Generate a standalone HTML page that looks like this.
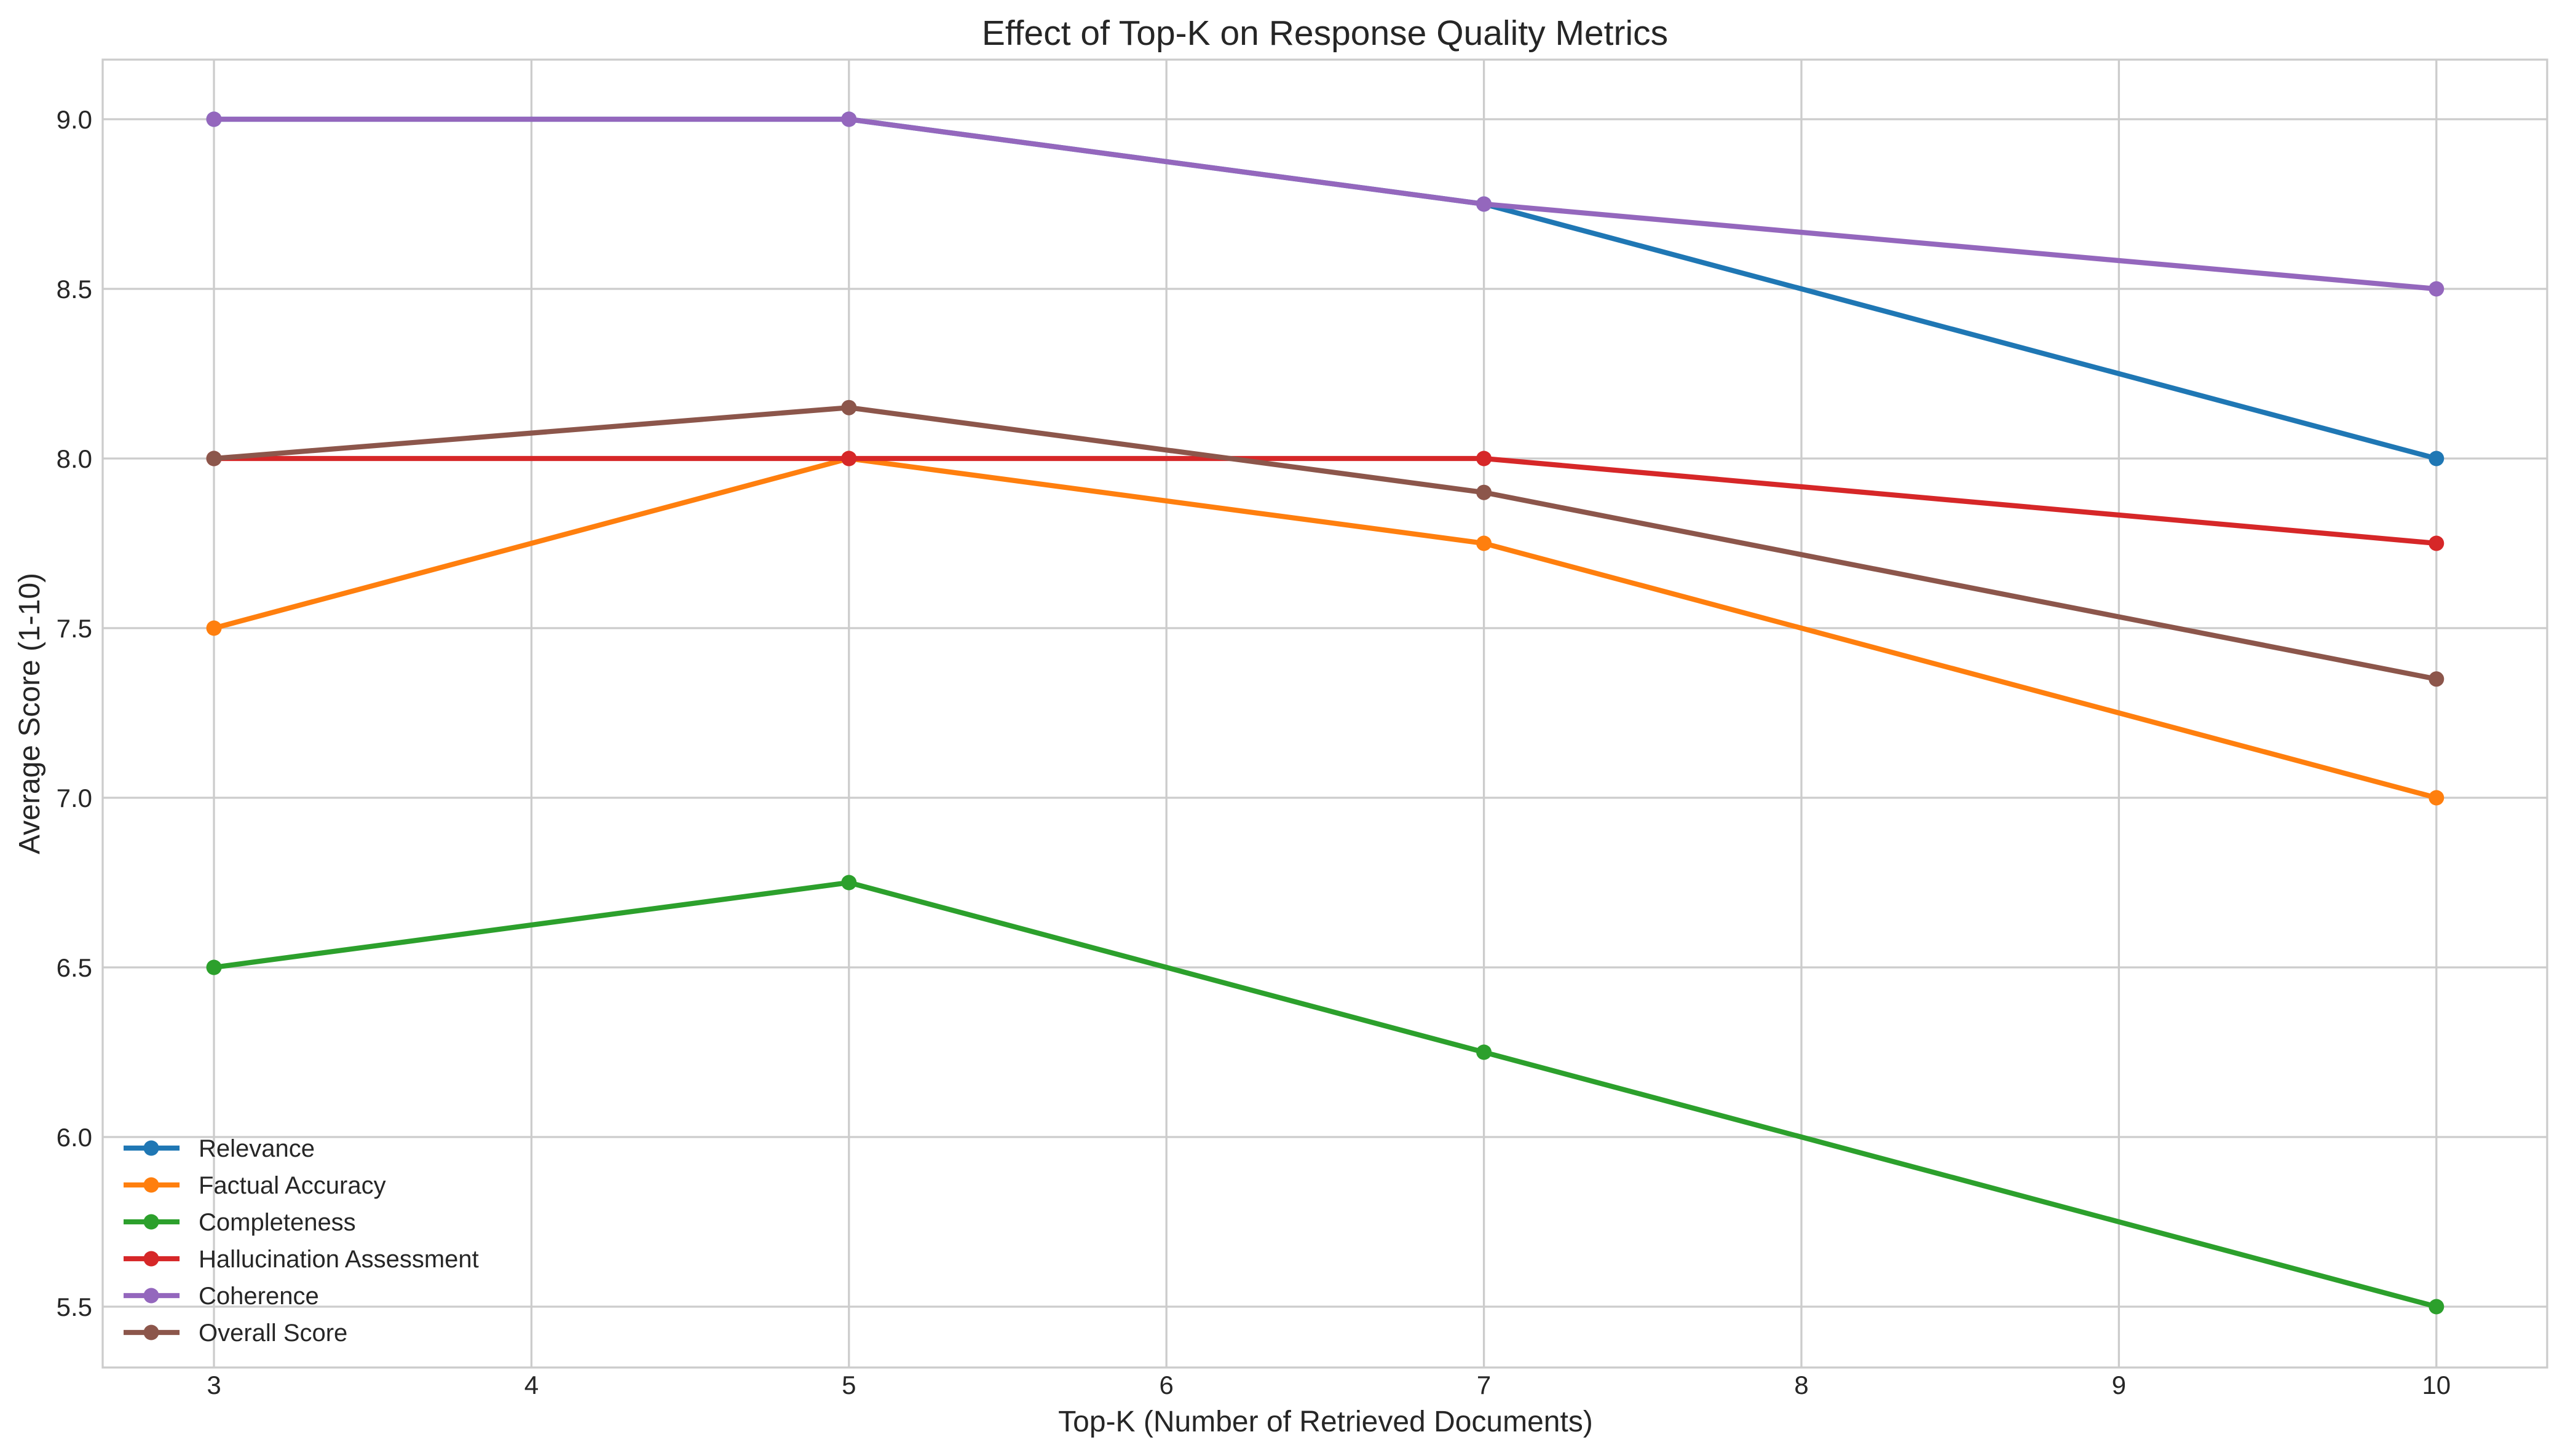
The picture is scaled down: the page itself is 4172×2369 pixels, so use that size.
<!DOCTYPE html>
<html><head><meta charset="utf-8"><style>
html,body{margin:0;padding:0;background:#fff;}
svg{display:block;}
text{font-family:"Liberation Sans",Arial,sans-serif;fill:#262626;}
</style></head><body>
<svg id="chart" width="4172" height="2369" viewBox="0 0 4172 2369" xmlns="http://www.w3.org/2000/svg">
<rect x="0" y="0" width="4172" height="2369" fill="#fff"/>
<g id="grid"></g>
<g id="ticks"></g>
<rect x="167" y="97" width="3976" height="2128" fill="none" stroke="#cccccc" stroke-width="3.3"/>
<g id="series"></g>
<g id="legend"></g>
<text x="2155" y="73" font-size="57" text-anchor="middle">Effect of Top-K on Response Quality Metrics</text>
<text x="2156" y="2329" font-size="48" text-anchor="middle">Top-K (Number of Retrieved Documents)</text>
<text x="0" y="0" font-size="48" text-anchor="middle" transform="translate(64,1161) rotate(-90)">Average Score (1-10)</text>
</svg>
<script>
const categories = [3, 5, 7, 10];
const seriesNames = ["Relevance","Factual Accuracy","Completeness","Hallucination Assessment","Coherence","Overall Score"];
const relevance = [9.0, 9.0, 8.75, 8.0];
const factualAccuracy = [7.5, 8.0, 7.75, 7.0];
const completeness = [6.5, 6.75, 6.25, 5.5];
const hallucination = [8.0, 8.0, 8.0, 7.75];
const coherence = [9.0, 9.0, 8.75, 8.5];
const overallScore = [8.0, 8.15, 7.9, 7.35];
const xTicks = [3,4,5,6,7,8,9,10];
const yTicks = [5.5,6.0,6.5,7.0,7.5,8.0,8.5,9.0];
const yTickLabels = ["5.5","6.0","6.5","7.0","7.5","8.0","8.5","9.0"];

const NS="http://www.w3.org/2000/svg";
const colors=["#1f77b4","#ff7f0e","#2ca02c","#d62728","#9467bd","#8c564b"];
const allSeries=[relevance,factualAccuracy,completeness,hallucination,coherence,overallScore];
function xs(v){return 348+(v-3)*516.4;}
function ys(v){return 194+(9.0-v)*552;}
function mk(tag,attrs,parent){const e=document.createElementNS(NS,tag);for(const k in attrs)e.setAttribute(k,attrs[k]);parent.appendChild(e);return e;}
const grid=document.getElementById('grid'),ticks=document.getElementById('ticks'),ser=document.getElementById('series'),leg=document.getElementById('legend');
xTicks.forEach(t=>{
  const l=mk('line',{x1:xs(t),x2:xs(t),y1:97,y2:2225,stroke:'#cccccc','stroke-width':3.3},grid);
  
  
  const tx=mk('text',{x:xs(t),y:2268,'font-size':42,'text-anchor':'middle'},ticks);
  tx.textContent=t;
  
  
});
yTicks.forEach((t,i)=>{
  const l=mk('line',{x1:167,x2:4143,y1:ys(t),y2:ys(t),stroke:'#cccccc','stroke-width':3.3},grid);
  
  
  const tx=mk('text',{x:150,y:ys(t)+15,'font-size':42,'text-anchor':'end'},ticks);
  tx.textContent=yTickLabels[i];
  
  
});
allSeries.forEach((vals,si)=>{
  const g=mk('g',{},ser);
  
  
  const pts=vals.map((v,i)=>xs(categories[i])+','+ys(v)).join(' ');
  const pl=mk('polyline',{points:pts,fill:'none',stroke:colors[si],'stroke-width':8.3,'stroke-linejoin':'round','stroke-linecap':'round'},g);
  
  
  vals.forEach((v,i)=>{
    const c=mk('circle',{cx:xs(categories[i]),cy:ys(v),r:12.5,fill:colors[si]},g);
    
    
  });
  const ly=1868+si*60;
  const lg=mk('g',{},leg);
  
  
  mk('line',{x1:201,x2:292,y1:ly,y2:ly,stroke:colors[si],'stroke-width':8.3},lg);
  mk('circle',{cx:246,cy:ly,r:12.5,fill:colors[si]},lg);
  const t=mk('text',{x:323,y:ly+14,'font-size':40},lg);
  t.textContent=seriesNames[si];
});
</script>
</body></html>
